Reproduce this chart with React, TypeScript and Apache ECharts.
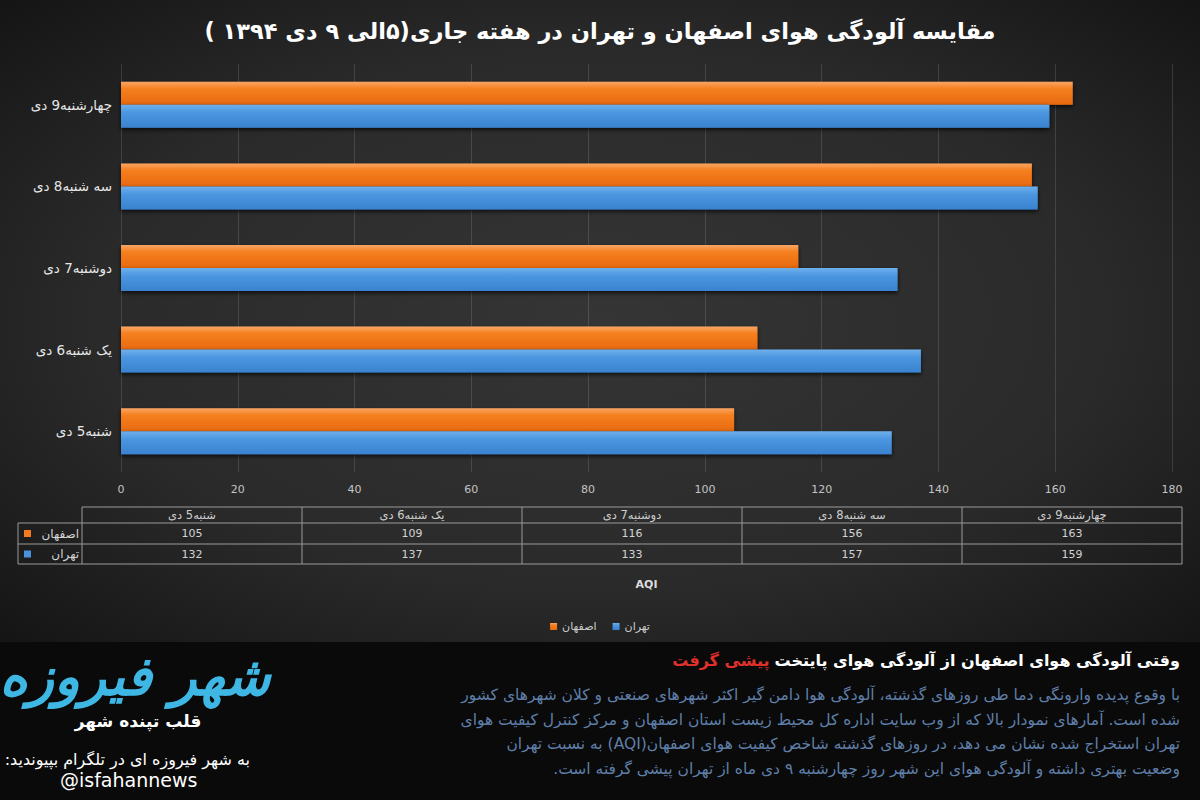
import React, { useEffect, useRef } from "react";
import * as echarts from "echarts";

// ---------- data ----------
const categories = ["شنبه5 دی", "یک شنبه6 دی", "دوشنبه7 دی", "سه شنبه8 دی", "چهارشنبه9 دی"];
const isfahan = [105, 109, 116, 156, 163];
const tehran = [132, 137, 133, 157, 159];
const seriesNames = ["اصفهان", "تهران"];
const xMin = 0;
const xMax = 180;
const xInterval = 20;
const axisName = "AQI";

const titleText = "مقایسه آلودگی هوای اصفهان و تهران در هفته جاری(۵الی ۹ دی ۱۳۹۴ )";
const headlineWhite = "وقتی آلودگی هوای اصفهان از آلودگی هوای پایتخت";
const headlineRed = "پیشی گرفت";
const paragraphLines = [
  "با وقوع پدیده وارونگی دما طی روزهای گذشته، آلودگی هوا دامن گیر اکثر شهرهای صنعتی و کلان شهرهای کشور",
  "شده است. آمارهای نمودار بالا که از وب سایت اداره کل محیط زیست استان اصفهان و مرکز کنترل کیفیت هوای",
  "تهران استخراج شده نشان می دهد، در روزهای گذشته شاخص کیفیت هوای اصفهان(AQI) به نسبت تهران",
  "وضعیت بهتری داشته و آلودگی هوای این شهر روز چهارشنبه ۹ دی ماه از تهران پیشی گرفته است.",
];
const brandText = "شهر فیروزه";
const sloganText = "قلب تپنده شهر";
const telegramText = "به شهر فیروزه ای در تلگرام بپیوندید:";
const handleText = "@isfahannews";

// ---------- styles ----------
const FA = "'DejaVu Sans', 'Noto Sans', sans-serif";
const ORANGE = "#f47b20";
const BLUE = "#4a93dc";
const RLE = "\u202B";
const PDF = "\u202C";
const rtl = (s: string) => RLE + s + PDF;

const orangeGrad = new echarts.graphic.LinearGradient(0, 0, 0, 1, [
  { offset: 0, color: "#f9a565" },
  { offset: 0.3, color: "#f5801f" },
  { offset: 1, color: "#e8690f" },
]);
const blueGrad = new echarts.graphic.LinearGradient(0, 0, 0, 1, [
  { offset: 0, color: "#6fb0ec" },
  { offset: 0.35, color: "#4b96e0" },
  { offset: 1, color: "#3a82cf" },
]);

export default function App() {
  const ref = useRef<HTMLDivElement>(null);

  useEffect(() => {
    if (!ref.current) return;
    const chart = echarts.init(ref.current, null, { renderer: "svg" });

    const gridLeft = 121;
    const gridRight = 28;
    const gridTop = 64;
    const gridBottom = 328;

    // data table layout
    const tLeft = 18;
    const tLabelRight = 82;
    const tRight = 1182;
    const rowY = [507, 523, 544, 564];
    const colW = (tRight - tLabelRight) / categories.length;
    const lineStyle = { stroke: "#9a9a9a", lineWidth: 1 };
    const tableEls: any[] = [];
    tableEls.push({ type: "line", shape: { x1: tLabelRight, y1: rowY[0], x2: tRight, y2: rowY[0] }, style: lineStyle });
    for (let r = 1; r < rowY.length; r++) {
      tableEls.push({ type: "line", shape: { x1: tLeft, y1: rowY[r], x2: tRight, y2: rowY[r] }, style: lineStyle });
    }
    tableEls.push({ type: "line", shape: { x1: tLeft, y1: rowY[1], x2: tLeft, y2: rowY[3] }, style: lineStyle });
    for (let c = 0; c <= categories.length; c++) {
      const x = tLabelRight + c * colW;
      tableEls.push({ type: "line", shape: { x1: x, y1: rowY[0], x2: x, y2: rowY[3] }, style: lineStyle });
    }
    const rows = [isfahan, tehran];
    const rowColors = [ORANGE, BLUE];
    categories.forEach((cat, i) => {
      const cx = tLabelRight + (i + 0.5) * colW;
      tableEls.push({
        type: "text",
        x: cx,
        y: (rowY[0] + rowY[1]) / 2,
        style: { text: cat, fill: "#cfcfcf", font: `11.5px ${FA}`, align: "center", verticalAlign: "middle" },
      });
      rows.forEach((vals, r) => {
        tableEls.push({
          type: "text",
          x: cx,
          y: (rowY[r + 1] + rowY[r + 2]) / 2,
          style: { text: String(vals[i]), fill: "#d4d4d4", font: `11px ${FA}`, align: "center", verticalAlign: "middle" },
        });
      });
    });
    seriesNames.forEach((name, r) => {
      const cy = (rowY[r + 1] + rowY[r + 2]) / 2;
      tableEls.push({ type: "rect", shape: { x: 24, y: cy - 3.5, width: 7, height: 7 }, style: { fill: rowColors[r] } });
      tableEls.push({
        type: "text",
        x: 79,
        y: cy,
        style: { text: name, fill: "#d4d4d4", font: `12px ${FA}`, align: "right", verticalAlign: "middle" },
      });
    });

    const bgEls: any[] = [
      {
        type: "rect",
        z: -100,
        silent: true,
        shape: { x: 0, y: 0, width: 1200, height: 642 },
        style: {
          fill: new echarts.graphic.RadialGradient(0.5, 0.5, 0.7, [
            { offset: 0, color: "#353535" },
            { offset: 0.6, color: "#2a2a2a" },
            { offset: 1, color: "#151515" },
          ]),
        },
      },
      {
        type: "rect",
        z: -100,
        silent: true,
        shape: { x: 0, y: 642, width: 1200, height: 158 },
        style: { fill: "#0a0a0a" },
      },
    ];

    const bottomEls: any[] = [
      {
        type: "text",
        x: 135,
        y: 676,
        style: {
          text: brandText,
          fill: "#3fb7e4",
          font: `italic bold 54px ${FA}`,
          align: "center",
          verticalAlign: "middle",
        },
      },
      {
        type: "text",
        x: 138,
        y: 721,
        style: { text: sloganText, fill: "#ffffff", font: `bold 17px ${FA}`, align: "center", verticalAlign: "middle" },
      },
      {
        type: "text",
        x: 250,
        y: 759,
        style: { text: rtl(telegramText), fill: "#ffffff", font: `16px ${FA}`, align: "right", verticalAlign: "middle" },
      },
      {
        type: "text",
        x: 60,
        y: 780,
        style: { text: handleText, fill: "#ffffff", font: `19px ${FA}`, align: "left", verticalAlign: "middle" },
      },
      {
        type: "text",
        x: 1180,
        y: 660,
        style: {
          text: `{r|${headlineRed}}{w|${headlineWhite}}`,
          align: "right",
          verticalAlign: "middle",
          rich: {
            r: { fill: "#e0302a", font: `bold 16px ${FA}`, padding: [0, 5, 0, 0] },
            w: { fill: "#ffffff", font: `bold 16px ${FA}` },
          },
        },
      },
      ...paragraphLines.map((line, i) => ({
        type: "text",
        x: 1180,
        y: 695 + i * 24.7,
        style: { text: rtl(line), fill: "#5f7fa9", font: `15.5px ${FA}`, align: "right", verticalAlign: "middle" },
      })),
    ];

    const option: any = {
      animation: false,
      title: {
        text: titleText,
        left: "center",
        top: 14,
        textStyle: { color: "#ffffff", fontSize: 22.5, fontWeight: "bold", fontFamily: FA },
      },
      legend: {
        data: seriesNames,
        left: "center",
        top: 616,
        icon: "rect",
        itemWidth: 7,
        itemHeight: 7,
        itemGap: 16,
        textStyle: { color: "#cccccc", fontSize: 11, fontFamily: FA },
      },
      grid: { left: gridLeft, right: gridRight, top: gridTop, bottom: gridBottom, containLabel: false },
      xAxis: {
        type: "value",
        min: xMin,
        max: xMax,
        interval: xInterval,
        name: axisName,
        nameLocation: "middle",
        nameGap: 107,
        nameTextStyle: { color: "#dddddd", fontSize: 11, fontWeight: "bold", fontFamily: FA },
        axisLine: { show: false },
        axisTick: { show: false },
        axisLabel: { color: "#c4c4c4", fontSize: 11, margin: 12, fontFamily: FA },
        splitLine: { show: true, lineStyle: { color: "rgba(255,255,255,0.13)", width: 1 } },
      },
      yAxis: {
        type: "category",
        data: categories,
        axisLine: { show: false },
        axisTick: { show: false },
        axisLabel: { color: "#e6e6e6", fontSize: 13.5, margin: 9, fontFamily: FA },
        splitLine: { show: false },
      },
      series: [
        {
          name: seriesNames[0],
          type: "bar",
          data: isfahan,
          barWidth: 23,
          barGap: "0%",
          itemStyle: {
            color: orangeGrad,
            shadowColor: "rgba(0,0,0,0.75)",
            shadowBlur: 4,
            shadowOffsetY: 2,
          },
        },
        {
          name: seriesNames[1],
          type: "bar",
          data: tehran,
          barWidth: 23,
          barGap: "0%",
          itemStyle: {
            color: blueGrad,
            shadowColor: "rgba(0,0,0,0.75)",
            shadowBlur: 4,
            shadowOffsetY: 2,
          },
        },
      ],
      color: [ORANGE, BLUE],
      graphic: [...bgEls, ...tableEls, ...bottomEls],
    };

    chart.setOption(option);
    return () => chart.dispose();
  }, []);

  return (
    <div
      ref={ref}
      style={{ position: "absolute", left: 0, top: 0, width: 1200, height: 800 }}
    />
  );
}
